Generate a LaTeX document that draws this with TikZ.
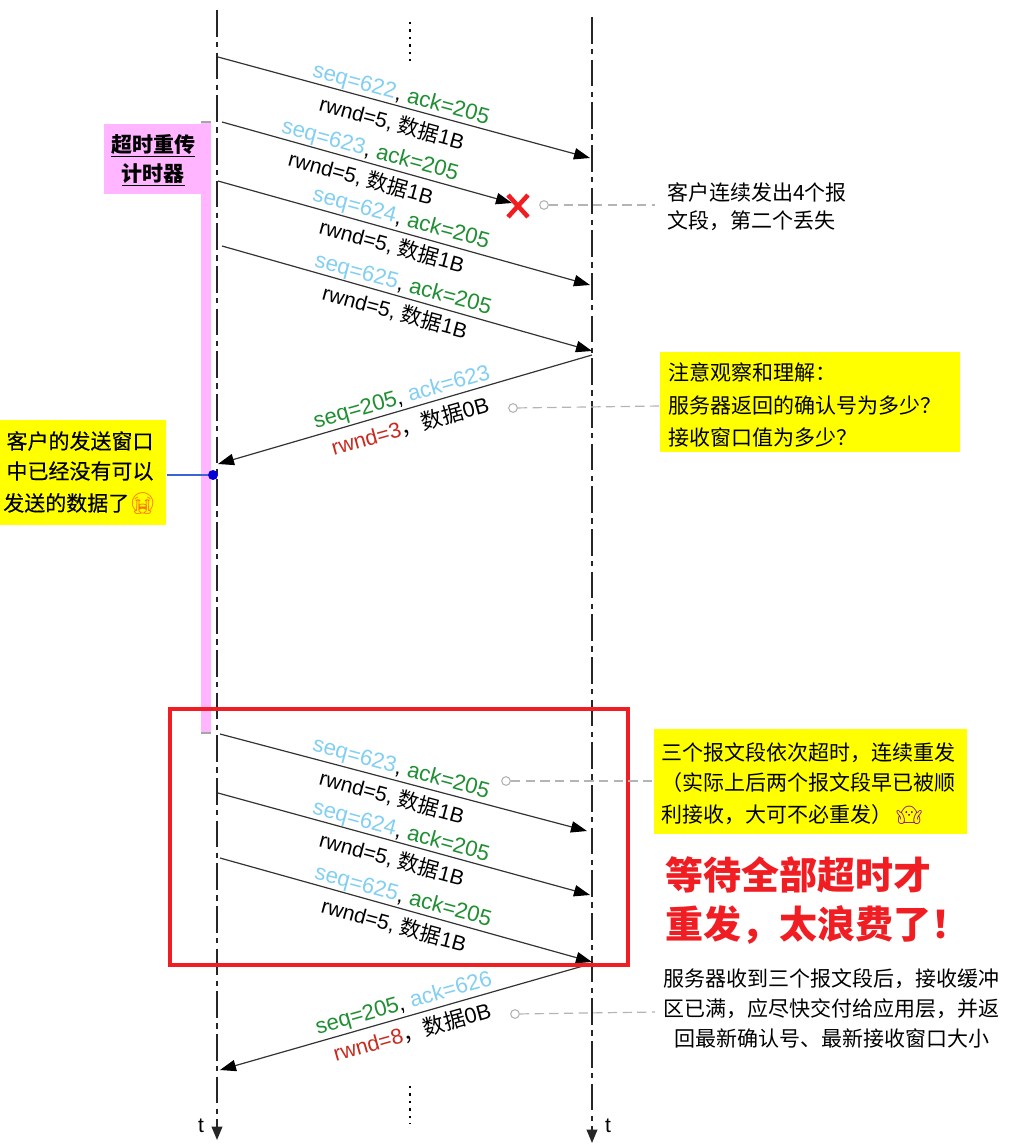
\documentclass[tikz,border=0pt]{standalone}
\usepackage{fontspec}
\setmainfont{Liberation Sans}
\newfontfamily\cjk{Noto Sans CJK SC}
\newfontfamily\cjkmed[FakeBold=0.25]{Noto Sans CJK SC}
\newfontfamily\emojifont{Noto Emoji}
\usepackage{xcolor}
\usetikzlibrary{positioning,arrows.meta,calc}
\definecolor{seqblue}{HTML}{82CFF2}
\definecolor{ackgreen}{HTML}{1F8F32}
\definecolor{rwndred}{HTML}{C92A1E}
\definecolor{notered}{HTML}{F01E23}
\definecolor{timerpink}{HTML}{FFB5FF}
\definecolor{noteyellow}{HTML}{FFFF00}
\definecolor{guidegray}{HTML}{B4B4B4}
\definecolor{wndblue}{HTML}{3C64D2}
\newcommand{\zh}[1]{{\cjk #1}}
\newcommand{\seqno}[1]{\textcolor{seqblue}{seq=#1}}
\newcommand{\ackno}[1]{\textcolor{ackgreen}{ack=#1}}
\tikzset{
  lifeline/.style={line width=1.15pt,black!85,dash pattern=on 20pt off 4pt on 4pt off 4pt,-{Triangle[length=10pt,width=8pt]}},
  msg/.style={-{Triangle[length=12pt,width=8.5pt,black]},line width=.9pt,black!80},
  msgtext/.style={inner sep=0pt,font=\fontsize{15.75}{18}\selectfont},
  seqtext/.style={inner sep=0pt,font=\fontsize{16.6}{18}\selectfont},
  fwd/.style={msgtext,rotate=-15.2},
  fwdseq/.style={seqtext,rotate=-15.2},
  back/.style={msgtext,font=\fontsize{16.2}{18}\selectfont,rotate=15.8},
  backseq/.style={seqtext,rotate=15.8},
  guide/.style={guidegray,line width=.9pt,dashed,dash pattern=on 7pt off 4pt},
  hollow/.style={circle,draw=guidegray,fill=white,line width=.8pt,minimum size=6.5pt,inner sep=0pt},
  yellowbox/.style={fill=noteyellow,inner sep=0pt,anchor=north west},
  notetext/.style={inner sep=0pt,font=\cjk\fontsize{15.75}{18}\selectfont},
  sendtext/.style={inner sep=0pt,font=\cjkmed\fontsize{15.75}{18}\selectfont},
  rednote/.style={inner sep=0pt,anchor=west,text=notered,font=\cjk\bfseries\fontsize{28.5}{32}\selectfont},
}
\begin{document}
\begin{tikzpicture}[x=.75pt,y=-.75pt]
  \useasboundingbox (0,0) rectangle (1024,1145);
  % timer bar and its label
  \fill[timerpink] (201,122) rectangle (211,733);
  \draw[black!35,line width=1pt] (201,122) -- (211,122) (201,733) -- (211,733);
  \node[fill=timerpink,minimum width=80.25pt,minimum height=52.5pt,inner sep=0pt,anchor=north west] (timerbox) at (104,124) {};
  \node[inner sep=0pt,font=\cjk\bfseries\fontsize{15.75}{18}\selectfont] (timer1) at (153,146) {\underline{超时重传}};
  \node[inner sep=0pt,font=\cjk\bfseries\fontsize{15.75}{18}\selectfont] (timer2) at (153,175) {\underline{计时器}};

  % the two time lines
  \coordinate (ltop) at (217,10);
  \coordinate (lbot) at (217,1140);
  \coordinate (rtop) at (592,17);
  \coordinate (rbot) at (592,1143);
  \draw[lifeline] (ltop) -- (lbot);
  \draw[lifeline] (rtop) -- (rbot);
  \node[msgtext] (tl) at (201,1126) {t};
  \node[msgtext] (tr) at (608,1126) {t};
  \coordinate (dots1a) at (410,22);
  \coordinate (dots1b) at (410,61);
  \coordinate (dots2a) at (410,1086);
  \coordinate (dots2b) at (410,1124);
  \draw[line width=1.4pt,dash pattern=on 1.6pt off 4pt] (dots1a) -- (dots1b);
  \draw[line width=1.4pt,dash pattern=on 1.6pt off 4pt] (dots2a) -- (dots2b);

  % first four segments
  \coordinate (a1) at (218,57);  \coordinate (b1) at (590,158);
  \coordinate (a2) at (222,122); \coordinate (b2) at (512,203);
  \coordinate (a3) at (218,181); \coordinate (b3) at (590,285);
  \coordinate (a4) at (222,246); \coordinate (b4) at (592,351);
  \draw[msg] (a1) -- (b1);
  \draw[msg] (a2) -- (b2);
  \draw[msg] (a3) -- (b3);
  \draw[msg] (a4) -- (b4);
  \node[fwdseq] (s1) at (401,95) {\seqno{622}, \ackno{205}};
  \node[fwd] (r1) at (392,123) {rwnd=5, \zh{数据}1B};
  \node[fwdseq] (s2) at (370,151) {\seqno{623}, \ackno{205}};
  \node[fwd] (r2) at (361,178) {rwnd=5, \zh{数据}1B};
  \node[fwdseq] (s3) at (401,219) {\seqno{624}, \ackno{205}};
  \node[fwd] (r3) at (392,246) {rwnd=5, \zh{数据}1B};
  \node[fwdseq] (s4) at (403,285) {\seqno{625}, \ackno{205}};
  \node[fwd] (r4) at (395,312) {rwnd=5, \zh{数据}1B};
  \coordinate (lost) at (518,206);
  \draw[notered,line width=3.4pt] ($(lost)+(-10,-11)$) -- ($(lost)+(10,11)$) ($(lost)+(-10,11)$) -- ($(lost)+(10,-11)$);

  % first ack
  \coordinate (c1) at (592,355); \coordinate (d1) at (218,464);
  \draw[msg] (c1) -- (d1);
  \node[backseq] (s5) at (402,398) {\textcolor{ackgreen}{seq=205}, \textcolor{seqblue}{ack=623}};
  \node[back] (r5) at (410,426) {\textcolor{rwndred}{rwnd=3}\zh{，数据}0B};

  % resent segments
  \coordinate (a6) at (220,734); \coordinate (b6) at (587,831);
  \coordinate (a7) at (218,793); \coordinate (b7) at (590,895);
  \coordinate (a8) at (220,858); \coordinate (b8) at (592,962);
  \draw[msg] (a6) -- (b6);
  \draw[msg] (a7) -- (b7);
  \draw[msg] (a8) -- (b8);
  \node[fwdseq] (s6) at (401,769) {\seqno{623}, \ackno{205}};
  \node[fwd] (r6) at (392,797) {rwnd=5, \zh{数据}1B};
  \node[fwdseq] (s7) at (401,832) {\seqno{624}, \ackno{205}};
  \node[fwd] (r7) at (392,859) {rwnd=5, \zh{数据}1B};
  \node[fwdseq] (s8) at (403,897) {\seqno{625}, \ackno{205}};
  \node[fwd] (r8) at (394,925) {rwnd=5, \zh{数据}1B};

  % second ack
  \coordinate (c9) at (590,964); \coordinate (d9) at (220,1070);
  \draw[msg] (c9) -- (d9);
  \node[backseq] (s9) at (404,1004) {\textcolor{ackgreen}{seq=205}, \textcolor{seqblue}{ack=626}};
  \node[back] (r9) at (412,1032) {\textcolor{rwndred}{rwnd=8}\zh{，数据}0B};

  % red frame
  \draw[notered,line width=2.6pt] (170,709) rectangle (628,965);

  % yellow notes
  \node[yellowbox,minimum width=124.5pt,minimum height=78.75pt] (sendbox) at (0,420) {};
  \node[sendtext,anchor=center] (send1) at (80,441) {客户的发送窗口};
  \node[sendtext,anchor=center] (send2) at (80,471) {中已经没有可以};
  \node[sendtext,anchor=west] (send3) at (3,504) {发送的数据了{\emojifont\textcolor{orange!90!red}{😭}}};
  \node[circle,fill=blue!85!black,minimum size=7.5pt,inner sep=0pt] (wnddot) at (213,475) {};
  \draw[wndblue,line width=.8pt] (sendbox.east |- wnddot) -- (wnddot);

  \node[yellowbox,minimum width=225pt,minimum height=75pt] (askbox) at (660,352) {};
  \node[notetext,anchor=west] (ask1) at (668,372) {注意观察和理解：};
  \node[notetext,anchor=west] (ask2) at (668,405) {服务器返回的确认号为多少？};
  \node[notetext,anchor=west] (ask3) at (668,437) {接收窗口值为多少？};

  \node[yellowbox,minimum width=234.75pt,minimum height=78.75pt] (resendbox) at (654,729) {};
  \node[notetext,anchor=west] (resend1) at (661,753) {三个报文段依次超时，连续重发};
  \node[notetext,anchor=east] (resend2) at (956,783) {（实际上后两个报文段早已被顺};
  \node[notetext,anchor=west] (resend3) at (661,815) {利接收，大可不必重发）\,{\emojifont\textcolor{violet}{🤷}}};

  % plain notes
  \node[notetext,anchor=west] (loss1) at (667,192) {客户连续发出4个报};
  \node[notetext,anchor=west] (loss2) at (667,221) {文段，第二个丢失};
  \node[rednote] (waste1) at (665,875) {等待全部超时才};
  \node[rednote] (waste2) at (665,925) {重发，太浪费了！};
  \node[notetext,anchor=west] (srv1) at (663,979) {服务器收到三个报文段后，接收缓冲};
  \node[notetext,anchor=west] (srv2) at (663,1009) {区已满，应尽快交付给应用层，并返};
  \node[notetext,anchor=center] (srv3) at (832,1038) {回最新确认号、最新接收窗口大小};

  % dashed guides
  \node[hollow] (h1) at (544,205) {};
  \node[hollow] (h2) at (513,408) {};
  \node[hollow] (h3) at (506,781) {};
  \node[hollow] (h4) at (515,1014) {};
  \coordinate (g1) at (655,205);
  \coordinate (g4) at (655,1012);
  \draw[guide] (h1) -- (g1);
  \draw[guide] (h2) -- (askbox.west |- 0,406);
  \draw[guide] (h3) -- (resendbox.west |- h3);
  \draw[guide] (h4) -- (g4);
\end{tikzpicture}
\end{document}
